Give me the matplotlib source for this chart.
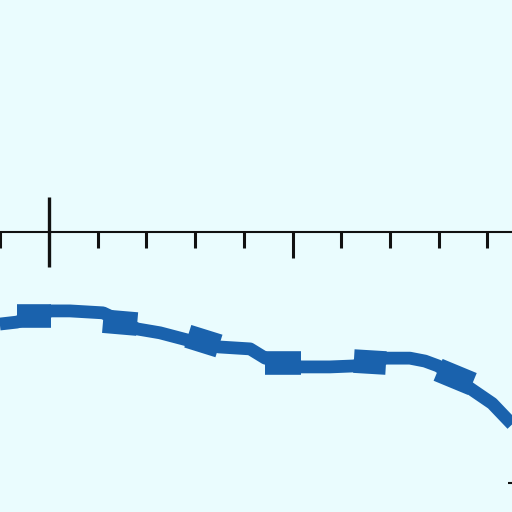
import numpy as np
import matplotlib.pyplot as plt

# data (satuan = jarak antar tick)
x_garis = [-1.01, -0.66, 0.04, 0.43, 1.11, 1.81, 2.28, 2.85, 3.49, 4.13,
           4.44, 5.17, 5.77, 6.26, 6.92, 7.41, 7.72, 7.99, 8.69, 9.10, 9.51]
y_garis = [-1.89, -1.85, -1.62, -1.62, -1.66, -1.99, -2.07, -2.22, -2.36, -2.40,
           -2.59, -2.77, -2.77, -2.75, -2.59, -2.59, -2.65, -2.75, -3.24, -3.52, -3.95]

# blok tebal: x awal, x akhir, y awal, y akhir
blok_x0 = [-0.66, 1.11, 2.85, 4.44, 6.26, 7.99]
blok_x1 = [0.04, 1.81, 3.49, 5.17, 6.92, 8.69]
blok_y0 = [-1.72, -1.83, -2.14, -2.69, -2.65, -2.83]
blok_y1 = [-1.72, -1.89, -2.34, -2.69, -2.69, -3.12]

tick_minor = [-1, 1, 2, 3, 4, 6, 7, 8, 9]
tick_major = [5]

biru = '#1a62ad'
hitam = '#111111'
latar = '#eafcfe'

fig = plt.figure(figsize=(5.12, 5.12), dpi=100)
fig.patch.set_facecolor(latar)
ax = fig.add_axes([0, 0, 1, 1])
ax.set_facecolor(latar)

# sumbu horizontal dan tick
ax.axhline(0, color=hitam, lw=1.5)
ax.vlines(tick_minor, -0.33, 0, color=hitam, lw=2.2)
ax.vlines(tick_major, -0.54, 0, color=hitam, lw=2.2)
ax.vlines([0], -0.72, 0.72, color=hitam, lw=2.4)
ax.hlines([-5.15], 9.43, 9.6, color=hitam, lw=1.5)

# garis data
ax.plot(x_garis, y_garis, color=biru, lw=9.2, solid_joinstyle='round',
        solid_capstyle='butt')
for x0, x1, y0, y1 in zip(blok_x0, blok_x1, blok_y0, blok_y1):
    ax.plot([x0, x1], [y0, y1], color=biru, lw=17, solid_capstyle='butt')

ax.set_xlim(-1.006, 9.507)
ax.set_ylim(-5.749, 4.764)
ax.axis('off')
fig.savefig('out.png', dpi=100, facecolor=latar)
